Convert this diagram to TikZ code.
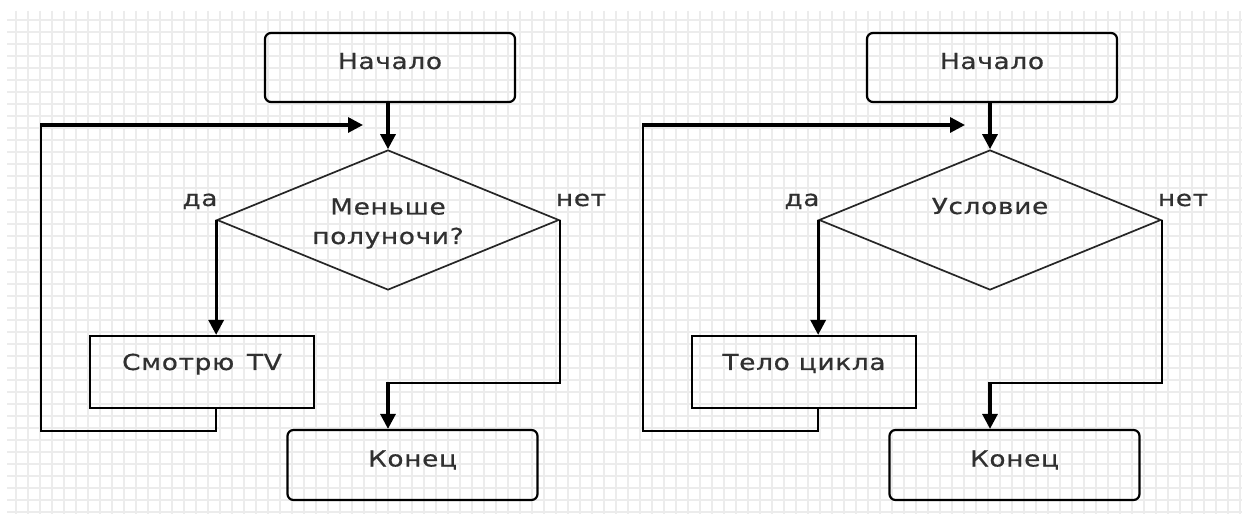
\documentclass[tikz,border=0pt]{standalone}
\usepackage{fontspec}
\usetikzlibrary{arrows.meta,shapes.geometric,calc}
\newfontfamily\lblfont{DejaVu Sans}[FakeStretch=1.2,LetterSpace=3,FakeBold=0.6]
\definecolor{txt}{HTML}{303030}
\definecolor{gridc}{HTML}{ECECEC}
\begin{document}
\begin{tikzpicture}[x=1pt,y=-1pt,
  every node/.style={font=\lblfont\fontsize{22}{29}\selectfont, text=txt},
  term/.style={draw=black, line width=2.2pt, rounded corners=6pt, minimum width=250pt, minimum height=69pt, inner sep=0pt, text height=16pt, text depth=13pt},
  proc/.style={draw=black, line width=2.2pt, minimum width=224pt, minimum height=72pt, inner sep=0pt, text height=16pt, text depth=20pt},
  dec/.style={diamond, draw=black!85, line width=1.7pt, minimum width=342pt, minimum height=140pt, inner sep=0pt},
  arr/.style={line width=3.2pt, -{Triangle[length=15pt,width=15pt]}},
  wire/.style={line width=2.2pt},
  lbl/.style={anchor=base, inner sep=0pt},
  gridline/.style={gridc, line width=1.3pt}
]
\useasboundingbox (0,0) rectangle (1247,518);
\fill[white] (0,0) rectangle (1247,518);
% grid
\foreach \gx in {16,28,...,1240} \draw[gridline] (\gx,11) -- (\gx,514);
\foreach \gy in {20,32,...,512} \draw[gridline] (7,\gy) -- (1242,\gy);

% ---------- left flowchart ----------
\node[term] (n1) at (390,67.5) {Начало};
\node[dec] (d1) at (388,220) {};
\node[lbl] (t1a) at (388,214.5) {Меньше};
\node[lbl] (t1b) at (388,244) {полуночи?};
\node[lbl] (da1) at (200,206) {да};
\node[lbl] (net1) at (581,206) {нет};
\node[proc] (b1) at (202,372) {Смотрю\ \,TV};
\node[term, minimum height=70pt] (k1) at (412.5,465) {Конец};
\coordinate (lp1) at (41,125);
\coordinate (tip1) at (363,125);
\coordinate (c1) at (388,383);

\draw[arr] (d1.north |- n1.south) -- (d1.north);
\draw[arr] (d1.west) -- (d1.west |- b1.north);
\draw[wire] (d1.west |- b1.south) -- ++(0,22) -| (lp1);
\draw[arr, shorten <=-1pt] (lp1) -- (tip1);
\draw[wire] (d1.east) |- (c1);
\draw[arr, shorten <=-1pt] (c1) -- (c1 |- k1.north);

% ---------- right flowchart ----------
\node[term] (n2) at (992,67.5) {Начало};
\node[dec] (d2) at (990,220) {};
\node[lbl] (t2) at (990,214) {Условие};
\node[lbl] (da2) at (802,206) {да};
\node[lbl] (net2) at (1183,206) {нет};
\node[proc] (b2) at (804,372) {Тело цикла};
\node[term, minimum height=70pt] (k2) at (1014.5,465) {Конец};
\coordinate (lp2) at (643,125);
\coordinate (tip2) at (965,125);
\coordinate (c2) at (990,383);

\draw[arr] (d2.north |- n2.south) -- (d2.north);
\draw[arr] (d2.west) -- (d2.west |- b2.north);
\draw[wire] (d2.west |- b2.south) -- ++(0,22) -| (lp2);
\draw[arr, shorten <=-1pt] (lp2) -- (tip2);
\draw[wire] (d2.east) |- (c2);
\draw[arr, shorten <=-1pt] (c2) -- (c2 |- k2.north);
\end{tikzpicture}
\end{document}
